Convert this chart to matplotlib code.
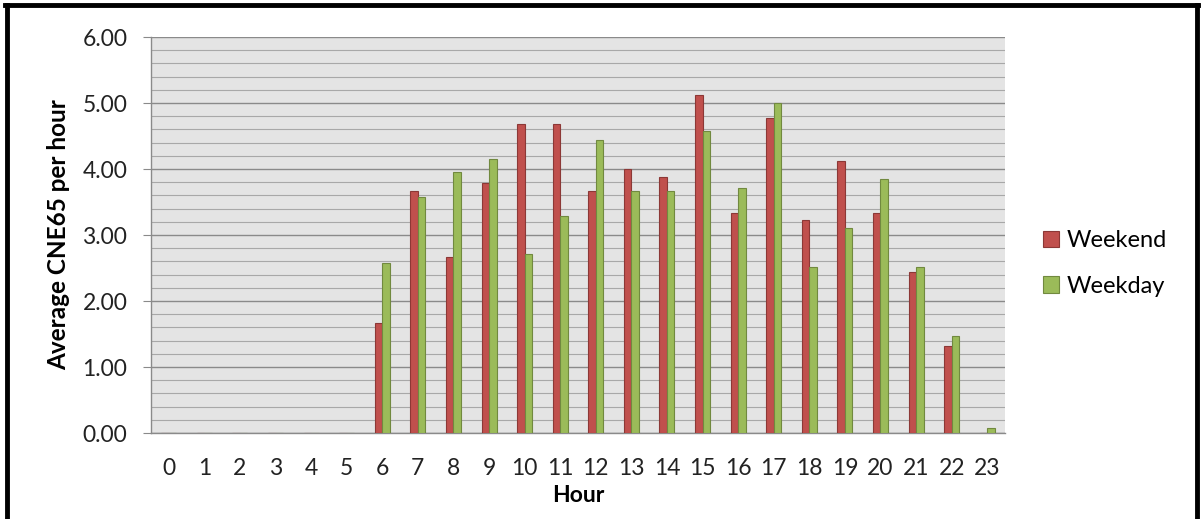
import numpy as np
import matplotlib.pyplot as plt
from matplotlib.ticker import MultipleLocator, FormatStrFormatter
from matplotlib.lines import Line2D

# data
hours = list(range(24))
weekend = [0, 0, 0, 0, 0, 0, 1.66, 3.66, 2.66, 3.79, 4.68, 4.68, 3.66, 4.00,
           3.88, 5.12, 3.34, 4.78, 3.22, 4.12, 3.34, 2.44, 1.32, 0]
weekday = [0, 0, 0, 0, 0, 0, 2.57, 3.57, 3.95, 4.15, 2.71, 3.29, 4.44, 3.66,
           3.66, 4.58, 3.71, 5.00, 2.52, 3.10, 3.85, 2.52, 1.47, 0.08]

plt.rcParams['font.family'] = ['Lato', 'DejaVu Sans']

fig = plt.figure(figsize=(12.04, 5.19), dpi=100)
ax = fig.add_axes([151 / 1204, 86 / 519, 854 / 1204, 396 / 519])
ax.set_facecolor('#e4e4e4')

x = np.arange(len(hours))
w = 0.21
ax.bar(x - w / 2, weekend, w, color='#c0504d', edgecolor='#8c3836', linewidth=0.8,
       label='Weekend', zorder=3)
ax.bar(x + w / 2, weekday, w, color='#9bbb59', edgecolor='#71893f', linewidth=0.8,
       label='Weekday', zorder=3)

ax.set_xlim(-0.5, 23.5)
ax.set_ylim(0, 6)
ax.set_xticks(x)
ax.set_xticklabels([str(h) for h in hours])
ax.yaxis.set_major_locator(MultipleLocator(1))
ax.yaxis.set_minor_locator(MultipleLocator(0.2))
ax.yaxis.set_major_formatter(FormatStrFormatter('%.2f'))

ax.grid(axis='y', which='major', color='#8a8a8a', linewidth=1.0, zorder=1)
ax.grid(axis='y', which='minor', color='#a8a8a8', linewidth=0.8, zorder=1)
ax.set_axisbelow(True)

for s in ['top', 'right']:
    ax.spines[s].set_visible(False)
ax.spines['left'].set_color('#8a8a8a')
ax.spines['bottom'].set_color('#8a8a8a')
ax.spines['left'].set_linewidth(1.0)
ax.spines['bottom'].set_linewidth(1.0)

ax.tick_params(axis='y', which='major', length=6, color='#8a8a8a', pad=11,
               labelsize=16.5, labelcolor='#222222')
ax.tick_params(axis='y', which='minor', length=0)
ax.tick_params(axis='x', length=0, pad=18, labelsize=16.5, labelcolor='#222222')

ax.set_xlabel('Hour', fontsize=16.5, fontweight='bold', labelpad=4)
ax.set_ylabel('Average CNE65 per hour', fontsize=17.5, fontweight='bold', labelpad=9)

ax.legend(loc='center left', bbox_to_anchor=(1.033, 0.428), frameon=False,
          fontsize=17, handlelength=0.7, handleheight=0.7, handletextpad=0.3,
          labelspacing=1.05, borderaxespad=0)

# black frame around the picture (left, top, right)
fig.add_artist(Line2D([7 / 1204, 7 / 1204], [0, 1 - 5 / 519], transform=fig.transFigure,
                      color='black', linewidth=3.5))
fig.add_artist(Line2D([5 / 1204, 1198 / 1204], [1 - 5 / 519, 1 - 5 / 519],
                      transform=fig.transFigure, color='black', linewidth=3.5))
fig.add_artist(Line2D([1197 / 1204, 1197 / 1204], [0, 1 - 5 / 519], transform=fig.transFigure,
                      color='black', linewidth=3.5))

fig.savefig('out.png', dpi=100)
